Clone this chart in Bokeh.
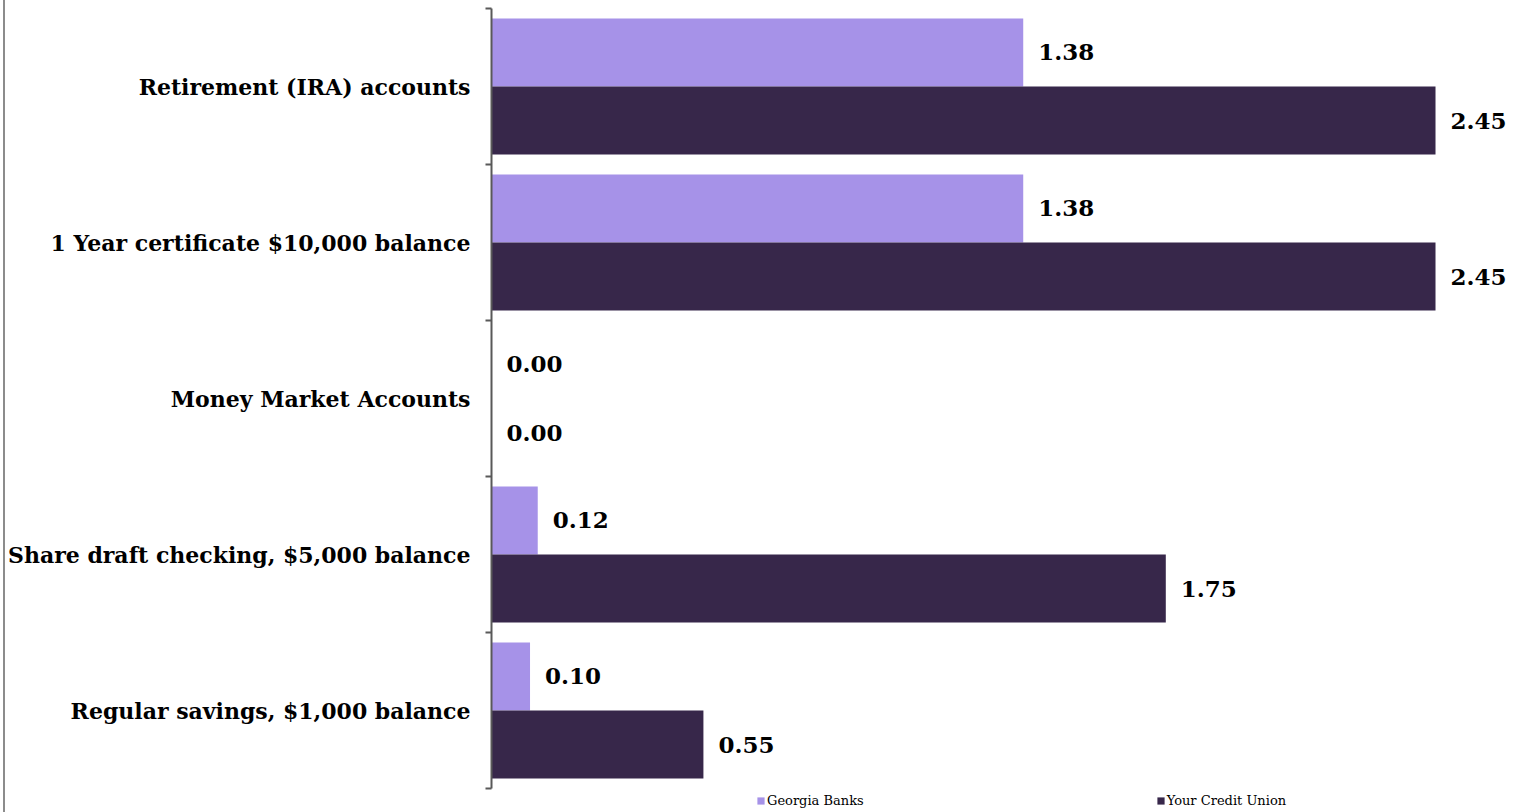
from bokeh.plotting import figure
from bokeh.models import (ColumnDataSource, LinearAxis, FixedTicker, Range1d,
                          Legend, LegendItem, Div)
from bokeh.layouts import row
from bokeh.embed import file_html
from bokeh.resources import INLINE
from bokeh.core.properties import value

categories = ["Retirement (IRA) accounts",
              "1 Year certificate $10,000 balance",
              "Money Market Accounts",
              "Share draft checking, $5,000 balance",
              "Regular savings, $1,000 balance"]
georgia_banks = [1.38, 1.38, 0.00, 0.12, 0.10]
credit_union = [2.45, 2.45, 0.00, 1.75, 0.55]
series_names = ["Georgia Banks", "Your Credit Union"]

LIGHT = "#a692e8"
DARK = "#37274a"
FONT = "DejaVu Serif"

n = len(categories)
centers = [n - 0.5 - i for i in range(n)]
half = 0.218

src_g = ColumnDataSource(dict(y=[c + half for c in centers], v=georgia_banks,
                              lab=["%.2f" % v for v in georgia_banks]))
src_c = ColumnDataSource(dict(y=[c - half for c in centers], v=credit_union,
                              lab=["%.2f" % v for v in credit_union]))

p = figure(width=1509, height=812, output_backend="svg", toolbar_location=None,
           x_range=Range1d(0, 2.655), y_range=Range1d(-24 / 156, n),
           x_axis_type=None, y_axis_type=None,
           min_border_left=485, min_border_right=0, min_border_top=8,
           min_border_bottom=0, margin=0)
p.outline_line_color = None
p.xgrid.visible = False
p.ygrid.visible = False

r_g = p.hbar(y="y", right="v", left=0, height=0.436, source=src_g,
             fill_color=LIGHT, line_color=None)
r_c = p.hbar(y="y", right="v", left=0, height=0.436, source=src_c,
             fill_color=DARK, line_color=None)

for src in (src_g, src_c):
    p.text(x="v", y="y", text="lab", source=src, x_offset=15,
           text_baseline="middle", text_align="left",
           text_font=value(FONT), text_font_style="bold",
           text_font_size="23px", text_color="#000000")

yaxis = LinearAxis(ticker=FixedTicker(ticks=centers, minor_ticks=list(range(n + 1))),
                   bounds=(0, n))
yaxis.major_label_overrides = {c: cat for c, cat in zip(centers, categories)}
yaxis.major_tick_out = 0
yaxis.major_tick_in = 0
yaxis.minor_tick_out = 6
yaxis.minor_tick_in = 0
yaxis.minor_tick_line_color = "#595959"
yaxis.minor_tick_line_width = 2
yaxis.axis_line_color = "#595959"
yaxis.axis_line_width = 2
yaxis.major_label_standoff = 15
yaxis.major_label_text_font = FONT
yaxis.major_label_text_font_style = "bold"
yaxis.major_label_text_font_size = "22px"
yaxis.major_label_text_color = "#000000"
p.add_layout(yaxis, "left")

leg = Legend(items=[LegendItem(label=name, renderers=[rend])
                    for name, rend in zip(series_names, (r_g, r_c))],
             location=(265, 4), orientation="horizontal",
             border_line_color=None, background_fill_alpha=0,
             padding=0, margin=0, spacing=292, glyph_width=9, glyph_height=9,
             label_standoff=2, label_text_font=FONT,
             label_text_font_size="13px", label_text_color="#000000",
             label_height=12)
p.add_layout(leg, "center")

edge = Div(width=5, height=812, margin=0,
           styles={"border-right": "2px solid #8c8c8c", "box-sizing": "border-box"})

layout = row(edge, p, spacing=0)
open("out.html", "w").write(file_html(layout, INLINE))
